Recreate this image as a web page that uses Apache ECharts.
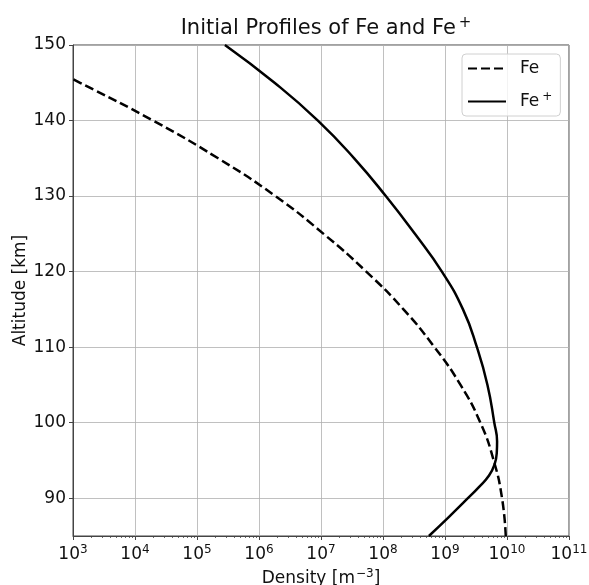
<!DOCTYPE html>
<html>
<head>
<meta charset="utf-8">
<script src="https://cdn.jsdelivr.net/npm/echarts@6/dist/echarts.min.js"></script>
<style>
  html, body { margin: 0; padding: 0; background: #fff; }
  #chart { width: 589px; height: 585px; }
</style>
</head>
<body>
<div id="chart"></div>
<script>
// altitude [km] and density [m^-3]
var feAlt = [85, 90, 95, 100, 105, 110, 115, 120, 125, 130, 135, 140, 145, 147];
var feDensity = [9.55e9, 8.32e9, 6.10e9, 3.72e9, 1.78e9, 6.76e8, 2.14e8, 5.37e7, 1.10e7, 1.84e6, 2.19e5, 1.95e4, 1.30e3, 4.1e2];

var feIonAlt = [85, 87.5, 90, 91.5, 93, 94.5, 96, 97.5, 100, 105, 110, 115, 120, 125, 130, 135, 140, 145, 150];
var feIonDensity = [5.5e8, 1.15e9, 2.34e9, 3.55e9, 5.13e9, 6.31e9, 6.84e9, 6.92e9, 6.24e9, 4.84e9, 3.27e9, 1.95e9, 8.91e8, 3.27e8, 1.11e8, 3.43e7, 8.91e6, 1.78e6, 2.82e5];

var yTicks = [90, 100, 110, 120, 130, 140, 150];
var xMinorTicks = [];
for (var e = 3; e < 11; e++) {
  for (var m = 2; m <= 9; m++) xMinorTicks.push(m * Math.pow(10, e));
}

function pairs(xs, ys) {
  return xs.map(function (x, i) { return [x, ys[i]]; });
}

var font = "DejaVu Sans";
var chart = echarts.init(document.getElementById("chart"), null, { renderer: "canvas" });

var option = {
  backgroundColor: "#fff",
  animation: false,
  title: {
    text: "Initial Profiles of Fe and Fe{sup|+}",
    left: 321,
    textAlign: "center",
    top: 11,
    textStyle: {
      fontFamily: font,
      fontSize: 21,
      fontWeight: "normal",
      color: "#111",
      rich: {
        sup: { fontFamily: font, fontSize: 15, color: "#111", padding: [0, 0, 10, 3] }
      }
    }
  },
  legend: {
    orient: "vertical",
    left: 462,
    top: 54,
    padding: [6, 8, 6, 5],
    backgroundColor: "rgba(255,255,255,0.8)",
    borderColor: "#d0d0d0",
    borderWidth: 1,
    borderRadius: 4,
    itemWidth: 38,
    itemHeight: 20,
    itemGap: 14,
    itemStyle: { opacity: 0 },
    data: ["Fe", "Fe+"],
    formatter: function (name) {
      return name === "Fe+" ? "Fe{sup|+}" : "Fe";
    },
    textStyle: {
      fontFamily: font,
      fontSize: 17,
      color: "#111",
      padding: [0, 0, 0, 9],
      rich: {
        sup: { fontFamily: font, fontSize: 12, color: "#111", padding: [0, 0, 9, 3] }
      }
    }
  },
  grid: {
    left: 73,
    right: 20,
    top: 45,
    bottom: 49,
    outerBoundsMode: "none",
    show: true,
    borderColor: "#444",
    borderWidth: 1,
    backgroundColor: "transparent"
  },
  xAxis: [
    {
      type: "log",
      logBase: 10,
      min: 1e3,
      max: 1e11,
      interval: 1,
      name: "Density [m{sup|−3}]",
      nameLocation: "middle",
      nameGap: 32,
      nameTextStyle: {
        fontFamily: font,
        fontSize: 17,
        color: "#111",
        rich: {
          sup: { fontFamily: font, fontSize: 12, color: "#111", padding: [0, 0, 9, 1] }
        }
      },
      axisLine: { show: true, lineStyle: { color: "#444", width: 1 } },
      axisTick: { show: true, length: 4, lineStyle: { color: "#444" } },
      splitLine: { show: true, lineStyle: { color: "#b0b0b0", width: 0.8 } },
      axisLabel: {
        margin: 8,
        fontFamily: font,
        fontSize: 17,
        color: "#111",
        formatter: function (v) {
          return "10{sup|" + Math.round(Math.log10(v)) + "}";
        },
        rich: {
          sup: { fontFamily: font, fontSize: 12, color: "#111", padding: [0, 0, 9, 0] }
        }
      }
    },
    {
      // minor ticks only
      type: "log",
      logBase: 10,
      min: 1e3,
      max: 1e11,
      position: "bottom",
      axisLine: { show: false },
      axisTick: { show: true, length: 2, customValues: xMinorTicks, lineStyle: { color: "#444", width: 0.8 } },
      axisLabel: { show: false },
      splitLine: { show: false }
    }
  ],
  yAxis: {
    type: "value",
    min: 85,
    max: 150,
    name: "Altitude [km]",
    nameLocation: "middle",
    nameGap: 44,
    nameMoveOverlap: false,
    nameTextStyle: { fontFamily: font, fontSize: 17, color: "#111" },
    axisLine: { show: true, lineStyle: { color: "#444", width: 1 } },
    axisTick: { show: true, length: 4, customValues: yTicks, lineStyle: { color: "#444" } },
    splitLine: { show: true, lineStyle: { color: "#b0b0b0", width: 0.8 } },
    axisLabel: {
      customValues: yTicks,
      margin: 7,
      fontFamily: font,
      fontSize: 17,
      color: "#111"
    }
  },
  series: [
    {
      name: "Fe",
      type: "line",
      data: pairs(feDensity, feAlt),
      symbol: "none",
      smooth: 0.5,
      clip: true,
      lineStyle: { color: "#000", width: 2.5, type: [9, 4] },
      itemStyle: { color: "#000" }
    },
    {
      name: "Fe+",
      type: "line",
      data: pairs(feIonDensity, feIonAlt),
      symbol: "none",
      smooth: 0.5,
      clip: true,
      lineStyle: { color: "#000", width: 2.5, type: "solid" },
      itemStyle: { color: "#000" }
    }
  ]
};

chart.setOption(option);
</script>
</body>
</html>
